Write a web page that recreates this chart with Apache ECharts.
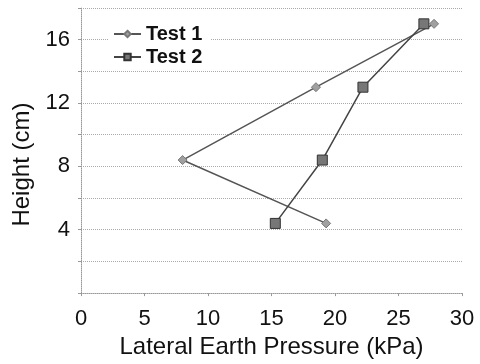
<!DOCTYPE html>
<html>
<head>
<meta charset="utf-8">
<script src="https://cdn.jsdelivr.net/npm/echarts@6/dist/echarts.min.js"></script>
<style>
    html, body { margin: 0; padding: 0; background: #fff; }
    #chart { width: 480px; height: 364px; }
</style>
</head>
<body>
<div id="chart"></div>
<script>
const heights = [4.4, 8.4, 13, 17]
const test1 = [19.3, 8.0, 18.5, 27.8]
const test2 = [15.3, 19.0, 22.2, 27.0]
const yLabels = [4, 8, 12, 16]

const font = 'Liberation Sans, Arial, sans-serif'
const pairs = (xs) => xs.map((x, i) => [x, heights[i]])

const chart = echarts.init(document.getElementById('chart'))
chart.setOption({
    animation: false,
    grid: { left: 81, right: 18, top: 8, bottom: 68 },
    legend: {
        orient: 'vertical',
        left: 109,
        top: 22,
        itemWidth: 27,
        itemHeight: 8,
        itemGap: 3,
        backgroundColor: '#fff',
        padding: [2, 8, 2, 4],
        textStyle: { fontFamily: font, fontSize: 20, fontWeight: 'bold', color: '#111' },
        data: ['Test 1', 'Test 2']
    },
    xAxis: {
        type: 'value',
        min: 0,
        max: 30,
        interval: 5,
        name: 'Lateral Earth Pressure (kPa)',
        nameLocation: 'middle',
        nameGap: 41,
        nameTextStyle: { fontFamily: font, fontSize: 24, color: '#111' },
        axisLine: { lineStyle: { color: '#999', type: 'dotted' } },
        axisTick: { length: 3, lineStyle: { color: '#999' } },
        axisLabel: { fontFamily: font, fontSize: 22, color: '#111', margin: 15 },
        splitLine: { show: false }
    },
    yAxis: {
        type: 'value',
        min: 0,
        max: 18,
        interval: 2,
        name: 'Height (cm)',
        nameLocation: 'middle',
        nameGap: 46,
        // sits a little below the middle of the axis in the original
        nameTextStyle: { fontFamily: font, fontSize: 24, color: '#111', padding: [0, 28, 0, 0] },
        axisLine: { show: true, lineStyle: { color: '#999', type: 'dotted' } },
        axisTick: { show: true, length: 3, lineStyle: { color: '#999' } },
        axisLabel: {
            fontFamily: font, fontSize: 22, color: '#111', margin: 11,
            formatter: v => yLabels.includes(v) ? String(v) : ''
        },
        splitLine: { show: true, lineStyle: { color: '#aaa', type: 'dotted' } }
    },
    series: [
        {
            name: 'Test 1',
            type: 'line',
            data: pairs(test1),
            symbol: 'diamond',
            symbolSize: 9,
            lineStyle: { color: '#555', width: 1.5 },
            itemStyle: { color: '#a0a0a0', borderColor: '#777', borderWidth: 1 }
        },
        {
            name: 'Test 2',
            type: 'line',
            data: pairs(test2),
            symbol: 'rect',
            symbolSize: 10,
            lineStyle: { color: '#444', width: 1.5 },
            itemStyle: { color: '#777', borderColor: '#333', borderWidth: 1 }
        }
    ]
})
</script>
</body>
</html>
